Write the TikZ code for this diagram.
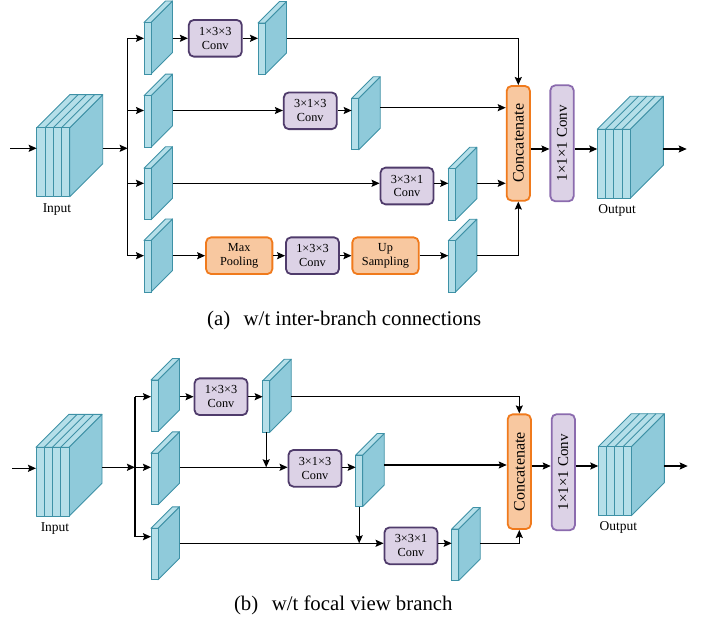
\documentclass[tikz,border=0pt]{standalone}
\usepackage{fontspec}
\setmainfont{Liberation Serif}
\usetikzlibrary{arrows.meta}
\definecolor{slabfront}{HTML}{B5DFE9}
\definecolor{slabside}{HTML}{8FCADA}
\definecolor{slabline}{HTML}{3E91A6}
\definecolor{convfill}{HTML}{DCD2E6}
\definecolor{convline}{HTML}{4F3B6B}
\definecolor{convlinel}{HTML}{8B6BAE}
\definecolor{orfill}{HTML}{F8C8A0}
\definecolor{orline}{HTML}{F07A1C}
\tikzset{
  arr/.style={line width=1.35pt, -{Stealth[length=8pt,width=7pt,inset=1.3pt]}},
  ln/.style={line width=1.35pt},
  convbox/.style={draw=convline, fill=convfill, line width=1.8pt, rounded corners=5pt,
    minimum width=53pt, minimum height=36.7pt, inner sep=0pt, align=center,
    font=\fontsize{12.3}{13.8}\selectfont},
  orbox/.style={convbox, draw=orline, fill=orfill, minimum width=66.3pt},
  catbox/.style={draw=orline, fill=orfill, line width=1.8pt, rounded corners=5pt,
    minimum width=23.3pt, minimum height=114.7pt, inner sep=0pt,
    font=\fontsize{16}{16}\selectfont},
  onebox/.style={catbox, draw=convlinel, fill=convfill, minimum height=116pt,
    font=\fontsize{15}{15}\selectfont},
  slabnode/.style={draw=slabline, fill=slabfront, line width=0.9pt, inner sep=0pt,
    outer sep=0pt, minimum width=7pt, minimum height=51.5pt},
  slabface/.style={draw=slabline, line width=0.9pt, line join=round},
  lbl/.style={font=\fontsize{13.5}{14}\selectfont},
  captext/.style={font=\fontsize{20.8}{22}\selectfont}
}
% thin feature-map slab: name, x, y of front top-left corner
\newcommand{\myslab}[3]{%
  \filldraw[slabface, fill=slabside] (#2+7,#3) -- ++(21.5,-21.5) -- ++(0,51.5) -- ++(-21.5,21.5) -- cycle;
  \filldraw[slabface, fill=slabfront] (#2,#3) -- ++(21.5,-21.5) -- ++(7,0) -- ++(-21.5,21.5) -- cycle;
  \node[slabnode, anchor=north west] (#1) at (#2,#3) {};
}
% stacked block: name, x, y of front top-left corner
\newcommand{\mycube}[3]{%
  \filldraw[slabface, fill=slabside] (#2+33,#3) -- ++(33,-33) -- ++(0,69) -- ++(-33,33) -- cycle;
  \filldraw[slabface, fill=slabfront] (#2,#3) -- ++(33,-33) -- ++(33,0) -- ++(-33,33) -- cycle;
  \foreach \i in {1,2,3} {\draw[slabface] (#2+8.25*\i,#3) -- ++(33,-33);}
  \foreach \i in {0,1,2,3} {\filldraw[slabface, fill=slabfront] (#2+8.25*\i,#3) rectangle ++(8.25,69);}
  \node[inner sep=0pt, outer sep=0pt, minimum width=33pt, minimum height=69pt, anchor=north west] (#1) at (#2,#3) {};
}
\begin{document}
\begin{tikzpicture}[x=1pt, y=-1pt]
\useasboundingbox (0,0) rectangle (707,623);

%================ (a) =================
\node[catbox] (catA) at (518.3,143.3) {\rotatebox{90}{Concatenate}};
\node[onebox] (oneA) at (562,143.3) {\rotatebox{90}{1×1×1 Conv}};

\mycube{inA}{36.7}{127.7}
\node[lbl] (inAl) at (57,210) {Input};
\mycube{outA}{597.3}{129.3}
\node[lbl] (outAl) at (617,210) {Output};

\coordinate (inAs) at (10,148.3);
\coordinate (inAo) at (102.7,148.3);
\coordinate (spA) at (127.7,148.3);
\draw[arr] (inAs) -- (inAs -| inA.west);
\draw[arr] (inAo) -- (spA);

\coordinate (spA1) at (127.7,38.3);
\coordinate (spA2) at (127.7,110.5);
\coordinate (spA3) at (127.7,183.3);
\coordinate (spA4) at (127.7,255.7);
\draw[ln] (spA1) -- (spA4);

\myslab{a1}{144}{22.5}
\myslab{a2}{144}{95.7}
\myslab{a3}{144}{168.3}
\myslab{a4}{144}{240.5}
\draw[arr] (spA1) -- (spA1 -| a1.west);
\draw[arr] (spA2) -- (spA2 -| a2.west);
\draw[arr] (spA3) -- (spA3 -| a3.west);
\draw[arr] (spA4) -- (spA4 -| a4.west);

% row 1
\node[convbox] (ca1) at (215.3,38.3) {1×3×3\\Conv};
\myslab{a1b}{258}{23}
\coordinate (a1o) at (172.5,38.3);
\coordinate (a1bo) at (286.5,38.3);
\draw[arr] (a1o) -- (a1o -| ca1.west);
\draw[arr] (a1o -| ca1.east) -- (a1o -| a1b.west);
\draw[arr] (a1bo) -| (catA.north);

% row 2
\node[convbox] (ca2) at (310.3,110.8) {3×1×3\\Conv};
\myslab{a2b}{351.7}{98.3}
\coordinate (a2o) at (172.5,110.5);
\coordinate (a2bo) at (380.2,107.7);
\draw[arr] (a2o) -- (a2o -| ca2.west);
\draw[arr] (a2o -| ca2.east) -- (a2o -| a2b.west);
\draw[arr] (a2bo) -- (a2bo -| catA.west);

% row 3
\node[convbox] (ca3) at (407,186) {3×3×1\\Conv};
\myslab{a3b}{448.3}{168.8}
\coordinate (a3o) at (172.5,183.3);
\coordinate (a3bo) at (476.8,183.3);
\draw[arr] (a3o) -- (a3o -| ca3.west);
\draw[arr] (a3o -| ca3.east) -- (a3o -| a3b.west);
\draw[arr] (a3bo) -- (a3bo -| catA.west);

% row 4
\node[orbox] (mp) at (239.2,255.7) {Max\\Pooling};
\node[convbox] (ca4) at (312.5,255.7) {1×3×3\\Conv};
\node[orbox] (up) at (385.5,255.7) {Up\\Sampling};
\myslab{a4b}{448.3}{240.7}
\coordinate (a4o) at (172.5,255.7);
\coordinate (a4bo) at (476.8,255.7);
\draw[arr] (a4o) -- (mp.west);
\draw[arr] (mp.east) -- (ca4.west);
\draw[arr] (ca4.east) -- (up.west);
\draw[arr] (up.east) -- (up.east -| a4b.west);
\draw[arr] (a4bo) -| (catA.south);

% to output
\coordinate (mA) at (0,149);
\coordinate (outAo) at (663.3,149);
\coordinate (outAe) at (686.7,149);
\draw[arr] (mA -| catA.east) -- (mA -| oneA.west);
\draw[arr] (mA -| oneA.east) -- (mA -| outA.west);
\draw[arr] (outAo) -- (outAe);

\node[captext] (capA) at (344.2,320) {(a)\hspace{0.65em}w/t inter-branch connections};

%================ (b) =================
\node[catbox] (catB) at (519.3,471.7) {\rotatebox{90}{Concatenate}};
\node[onebox] (oneB) at (563.3,472.2) {\rotatebox{90}{1×1×1 Conv}};

\mycube{inB}{36}{447.3}
\node[lbl] (inBl) at (55,528.3) {Input};
\mycube{outB}{598.3}{446.7}
\node[lbl] (outBl) at (618.3,527.7) {Output};

\coordinate (inBs) at (12,468.3);
\coordinate (inBo) at (102,467.3);
\coordinate (spB) at (135,467.3);
\draw[arr] (inBs) -- (inBs -| inB.west);
\draw[arr] (inBo) -- (spB);

\coordinate (spB1) at (135,396.7);
\coordinate (spB2) at (135,467.3);
\coordinate (spB3) at (135,536.7);
\draw[ln] (spB1) -- (spB3);

\myslab{b1}{151}{380}
\myslab{b2}{151}{453.3}
\myslab{b3}{151}{528.3}
\draw[arr] (spB1) -- (spB1 -| b1.west);
\draw[arr] (spB2) -- (spB2 -| b2.west);
\draw[arr] (spB3) -- (spB3 -| b3.west);

% row 1
\node[convbox] (cb1) at (221,396.7) {1×3×3\\Conv};
\myslab{b1b}{262.7}{380.7}
\coordinate (b1o) at (179.5,396.7);
\coordinate (b1bo) at (291.2,396.2);
\draw[arr] (b1o) -- (b1o -| cb1.west);
\draw[arr] (b1o -| cb1.east) -- (b1o -| b1b.west);
\draw[arr] (b1bo) -| (catB.north);

% row 2
\node[convbox] (cb2) at (315,468.3) {3×1×3\\Conv};
\myslab{b2b}{355.7}{455}
\coordinate (b2o) at (179.5,467.3);
\coordinate (b2bo) at (384.2,465);
\draw[arr] (b2o) -- (b2o -| cb2.west);
\draw[arr] (b2o -| cb2.east) -- (b2o -| b2b.west);
\draw[arr] (b2bo) -- (b2bo -| catB.west);
\draw[arr] (b1b.south) -- (b1b.south |- b2o);

% row 3
\node[convbox] (cb3) at (411,545.8) {3×3×1\\Conv};
\myslab{b3b}{451.7}{529}
\coordinate (b3o) at (179.5,543.3);
\coordinate (b3bo) at (480.2,543.3);
\draw[arr] (b3o) -- (b3o -| cb3.west);
\draw[arr] (b3o -| cb3.east) -- (b3o -| b3b.west);
\draw[arr] (b3bo) -| (catB.south);
\draw[arr] (b2b.south) -- (b2b.south |- b3o);

% to output
\coordinate (mB) at (0,466);
\coordinate (outBo) at (664.3,466);
\coordinate (outBe) at (687.7,466);
\draw[arr] (mB -| catB.east) -- (mB -| oneB.west);
\draw[arr] (mB -| oneB.east) -- (mB -| outB.west);
\draw[arr] (outBo) -- (outBe);

\node[captext] (capB) at (343.3,605) {(b)\hspace{0.65em}w/t focal view branch};
\end{tikzpicture}
\end{document}
